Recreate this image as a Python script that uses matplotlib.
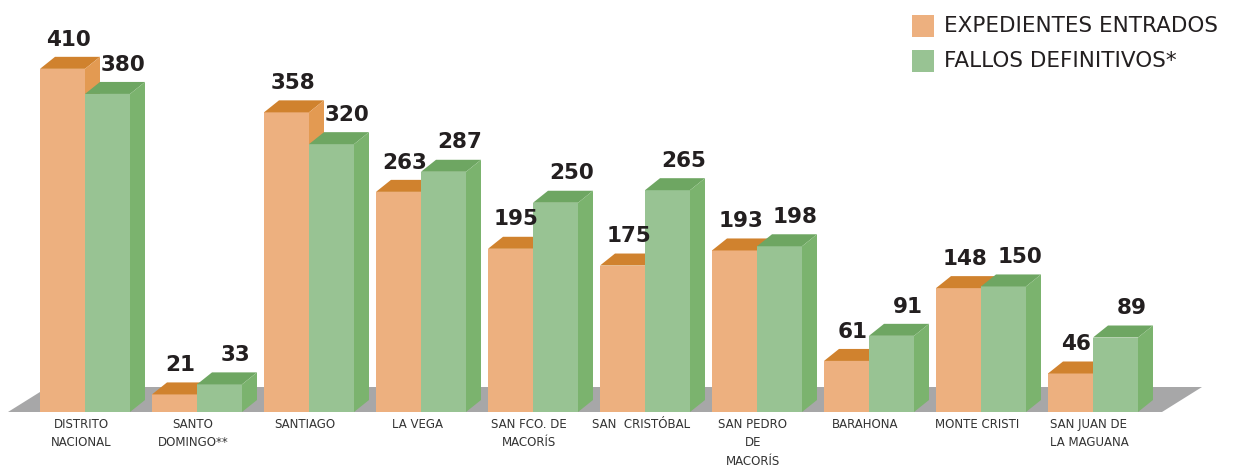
import matplotlib
matplotlib.use('Agg')
import matplotlib.pyplot as plt
from matplotlib.patches import Polygon, Rectangle

categorias = ['DISTRITO\nNACIONAL', 'SANTO\nDOMINGO**', 'SANTIAGO', 'LA VEGA',
              'SAN FCO. DE\nMACORÍS', 'SAN  CRISTÓBAL', 'SAN PEDRO\nDE\nMACORÍS',
              'BARAHONA', 'MONTE CRISTI', 'SAN JUAN DE\nLA MAGUANA']
entrados = [410, 21, 358, 263, 195, 175, 193, 61, 148, 46]
fallos = [380, 33, 320, 287, 250, 265, 198, 91, 150, 89]
series = ['EXPEDIENTES ENTRADOS', 'FALLOS DEFINITIVOS*']

# colores: frente, tapa, lado
naranja = ('#EDB07F', '#D0822E', '#E39A52')
verde = ('#98C393', '#6EA662', '#7BB36E')
piso = '#A7A7A8'
texto = '#231F20'

# escala de pixeles -> unidades de datos
px_x = 112.0
px_y = 0.837
ancho = 45 / px_x
dx = 15 / px_x
dy = 12 / px_y

fig = plt.figure(figsize=(12.47, 4.68), dpi=100)
ax = fig.add_axes([0, 0, 1, 1])
ax.set_xlim(-85 / px_x, (1247 - 85) / px_x)
ax.set_ylim(-56 / px_y, 412 / px_y)
ax.axis('off')

# piso gris
x_izq, x_der = (8 - 85) / px_x, (1162 - 85) / px_x
fdx, fdy = 40 / px_x, 25 / px_y
ax.add_patch(Polygon([(x_izq, 0), (x_der, 0), (x_der + fdx, fdy), (x_izq + fdx, fdy)],
                     closed=True, color=piso, lw=0, zorder=1))


def barra3d(x0, h, colores):
    frente, tapa, lado = colores
    ax.bar(x0, h, width=ancho, align='edge', color=frente, lw=0, zorder=2)
    ax.add_patch(Polygon([(x0, h), (x0 + ancho, h), (x0 + ancho + dx, h + dy), (x0 + dx, h + dy)],
                         closed=True, color=tapa, lw=0, zorder=2))
    ax.add_patch(Polygon([(x0 + ancho, 0), (x0 + ancho + dx, dy), (x0 + ancho + dx, h + dy), (x0 + ancho, h)],
                         closed=True, color=lado, lw=0, zorder=2))


for i in range(len(categorias)):
    barra3d(i - ancho, entrados[i], naranja)
    barra3d(i, fallos[i], verde)
    ax.text(i - ancho / 2 + 6 / px_x, entrados[i] + 35, str(entrados[i]), ha='center', va='center',
            fontsize=15.5, fontweight='bold', color=texto, zorder=3)
    ax.text(i + ancho / 2 + 16 / px_x, fallos[i] + 35, str(fallos[i]), ha='center', va='center',
            fontsize=15.5, fontweight='bold', color=texto, zorder=3)
    ax.text(i - 4 / px_x, -6 / px_y, categorias[i], ha='center', va='top', fontsize=8.5,
            color='#333333', linespacing=1.55)

# leyenda
for j, (nombre, col) in enumerate(zip(series, (naranja[0], verde[0]))):
    y = 1 - (26 + 35 * j) / 468
    ax.add_patch(Rectangle((912 / 1247, y - 11 / 468), 22 / 1247, 22 / 468,
                           transform=ax.transAxes, color=col, lw=0))
    ax.text(944 / 1247, y, nombre, transform=ax.transAxes, ha='left', va='center',
            fontsize=15.5, color=texto)

fig.savefig('out.png', dpi=100, facecolor='white')
